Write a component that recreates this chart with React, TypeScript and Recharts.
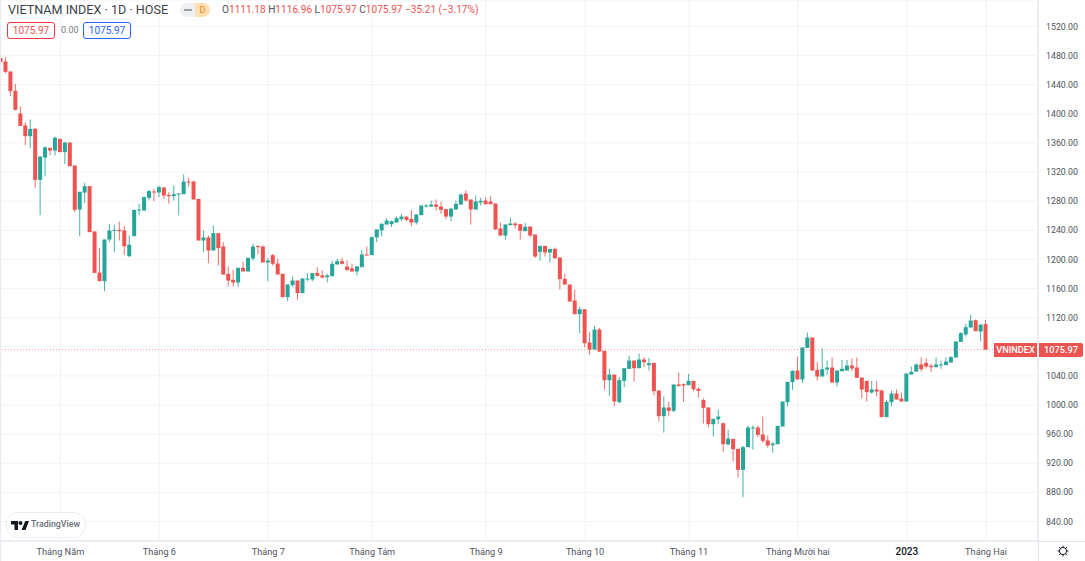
import { ComposedChart, Bar, XAxis, YAxis, CartesianGrid, ReferenceLine } from "recharts";

const opens = [
  1476.9,1471.9,1458.2,1431.6,1400.5,1384,1369.3,1379.4,1309.3,1340,
  1353.3,1349.6,1365.7,1347.4,1360.6,1329,1268.6,1291.9,1300.6,1238.4,
  1182,1170.1,1227.4,1239.8,1240.7,1239.8,1204.5,1232,1267.7,1267.2,
  1284.6,1293.3,1291.9,1298.8,1288.7,1286.9,1289.2,1289.7,1307,1307,
  1283.2,1226,1230.1,1212.3,1236.1,1217.8,1180.2,1172,1168.3,1188.5,
  1183.5,1201.3,1218.3,1217.8,1195.8,1205.9,1194.4,1180.3,1148.2,1164.7,
  1171.1,1153.7,1172.5,1172.5,1181.6,1178,1175.7,1177,1193.1,1197.6,
  1190.3,1187.6,1183.5,1189.4,1206.8,1205.9,1230.2,1239.8,1248,1248.4,
  1250.7,1255.3,1258.9,1255.7,1250.7,1260.8,1273.1,1272.7,1275.4,1272.7,
  1269,1258.9,1268.6,1275.4,1290.5,1282.3,1268.6,1278.2,1280.9,1279.6,
  1276.8,1242.5,1232.8,1247,1249.3,1248.4,1238.8,1245.2,1234.2,1210.4,
  1218.6,1209.5,1214.5,1202.6,1173.3,1165.5,1143.6,1124.8,1131.6,1085.9,
  1076.2,1103.7,1074.4,1034.1,1041.9,1003.9,1033.2,1049.7,1061.1,1050.6,
  1062.5,1054.7,1057.9,1019.9,984.7,996.6,992,1028.2,1028.6,1027.2,
  1033.2,1022.2,1007.1,996.6,973.7,980.5,975,945.7,953.5,939.8,
  910.9,942.1,968.2,969.1,959.5,951.3,944.8,946.2,970.5,1003.9,
  1031.4,1047.4,1035.1,1078.5,1092.7,1048.3,1039.2,1048.8,1051.5,1030.9,
  1046.5,1047.4,1054.3,1051.5,1037.8,1033.2,1017.2,1021.3,1019.9,983.3,
  1003.9,1015.8,1008.9,1004.8,1041.9,1046,1055.7,1057.9,1053.9,1052,
  1054.8,1054.8,1058.4,1065.3,1086.8,1096.9,1106.5,1116.6,1101,1111.18,
];

const highs = [
  1477.9,1477.9,1458.2,1441.2,1410.1,1388.6,1392.2,1380.8,1341.4,1355.6,
  1353.3,1368.9,1365.7,1361.6,1360.6,1329,1292.9,1305.2,1300.6,1238.4,
  1215.5,1227.4,1248.9,1248,1252.1,1245.7,1232.9,1268.1,1276.4,1286.4,
  1296,1297,1301.6,1299.3,1292.4,1301.6,1290.6,1316.7,1312.1,1308.4,
  1283.2,1239.8,1232.9,1246.6,1236.1,1223.7,1190.3,1185.7,1188.5,1197.2,
  1202.2,1221.5,1219.6,1219.2,1202.2,1207.7,1200.9,1180.3,1165.6,1176.6,
  1171.1,1173.8,1181.2,1181.6,1189.4,1184.8,1180.3,1198.6,1200.9,1202.2,
  1198.6,1194,1191.2,1213.2,1217.8,1231.5,1241.2,1249.8,1256.7,1253.4,
  1258.9,1262.6,1258.9,1268.1,1261.7,1274,1276.3,1280.9,1282.3,1279.6,
  1269.9,1269.9,1280.9,1290.1,1294.7,1282.3,1287.8,1284.6,1285.5,1286.9,
  1276.8,1250.7,1248,1257.6,1251.2,1248.4,1250.2,1245.2,1234.2,1218.6,
  1218.6,1214.5,1216.4,1202.6,1180.2,1165.5,1158.7,1134.9,1131.6,1100,
  1108.8,1106,1074.4,1050.1,1041.9,1038.7,1050.6,1068,1061.1,1070.7,
  1065.7,1064.8,1057.9,1019.9,1011.7,1004.4,1028.2,1044.6,1029.5,1042.8,
  1033.2,1024,1008.9,996.6,981,993.8,976,965.9,953.5,939.8,
  943.9,971.8,971.9,971.9,984.2,958.1,949,971.4,1004.8,1031.8,
  1047.4,1066.6,1079,1099.6,1092.7,1058.9,1077.6,1061.2,1065.3,1047.4,
  1062,1062,1063.9,1065.3,1037.8,1033.2,1033.2,1033.2,1021.3,1007.1,
  1019.9,1021.3,1017.2,1043.3,1052.9,1057,1065.3,1063.9,1056.6,1065.3,
  1061.2,1065.8,1067.1,1087.3,1100.1,1111.5,1123.9,1117.5,1110.6,1116.96,
];

const lows = [
  1470,1455.9,1424.3,1404.6,1383.5,1357,1352.8,1298.4,1260.8,1314.4,
  1342.8,1342.8,1347.4,1330.9,1328.1,1264.9,1232,1277.3,1237.5,1181.1,
  1170.1,1156.4,1223.7,1210.4,1226,1206.3,1203.1,1232,1260.8,1267.2,
  1281,1280,1285.5,1283.2,1276.4,1281,1260.3,1289.7,1300.2,1282.3,
  1226,1210,1194.9,1212.3,1191.7,1179.3,1162.8,1162.8,1161.9,1183.5,
  1183.5,1198.6,1206.8,1195.8,1170.2,1191.7,1179.3,1148.2,1142.7,1161.9,
  1144.5,1153.7,1170.2,1170.2,1176.6,1173.8,1168.3,1177,1193.1,1193.1,
  1183.9,1183.5,1178,1189.4,1205.4,1205.9,1223.8,1232,1248,1244.3,
  1250.7,1252.5,1252.5,1245.7,1248,1260.8,1271.3,1271.8,1267.2,1262.6,
  1255.3,1252.5,1268.6,1275.4,1279.6,1248,1268.6,1274,1275.4,1275.9,
  1241.1,1232.8,1227.4,1247,1242.5,1227.4,1238.8,1230.1,1202.2,1198.5,
  1204,1195.8,1200.8,1158.7,1165.5,1142.2,1124.8,1098.7,1079.4,1069.4,
  1076.2,1072.6,1021.3,1012.6,998.4,1002.5,1024.5,1049.7,1032.7,1050.6,
  1052,1047.4,1013.5,977.3,962.2,984.7,990.2,1025.9,1003.9,1027.2,
  1019,1010.3,974.6,969.1,956.7,974.1,935.2,945.7,922.4,900.4,
  873.4,942.1,938.9,955.8,948,941.6,934.3,946.2,970.5,997.9,
  1020.9,1035.1,1030,1078.5,1047.4,1033.7,1039.2,1041.5,1030.9,1025.4,
  1046.5,1047.4,1046.5,1037.3,1009,1004.8,1015.8,1011.7,983.3,983.3,
  997.9,1007.6,1004.8,1004.8,1041.9,1046,1046,1050.2,1045.2,1052,
  1049.7,1054.8,1058.4,1065.3,1086.8,1094.1,1106.5,1101.5,1087.7,1075.97,
];

const closes = [
  1471,1457.7,1431.2,1405.5,1383.5,1369.3,1379.4,1309.3,1341.4,1353.8,
  1349.6,1367,1347.4,1360.6,1328.1,1268.1,1292.9,1300.6,1237.5,1181.6,
  1170.1,1227.4,1239.8,1240.7,1238.8,1218.2,1220.1,1268.1,1268.6,1285.5,
  1293.8,1292.4,1299.3,1287.8,1286.9,1289.7,1290.6,1307,1306.1,1282.3,
  1226,1230.1,1212.3,1236.1,1215.5,1179.3,1171,1168.3,1188.5,1183.5,
  1202.2,1217.8,1217.3,1195.8,1198.6,1194,1179.3,1148.2,1165.6,1171.1,
  1153.7,1173.8,1173.8,1181.2,1177.5,1175.2,1178,1194,1197.6,1194,
  1185.7,1183.5,1190.3,1206.8,1205.4,1230.6,1241.2,1248.9,1253.5,1252.5,
  1256.7,1258.9,1254.4,1250.7,1261.7,1274,1274,1275.4,1272.2,1268.1,
  1258.9,1269.9,1276.3,1289.2,1280.9,1268.6,1279.6,1280.5,1275.9,1275.9,
  1241.1,1232.8,1248,1249.3,1247,1239.3,1244.8,1232.8,1204,1218.6,
  1209.5,1214.5,1201.7,1172.9,1165.5,1142.2,1124.8,1131.6,1084.9,1076.2,
  1103.7,1073.5,1034.1,1041.9,1004.8,1034.1,1050.6,1061.1,1050.6,1062.5,
  1058.8,1057.5,1019,984.7,996.6,992,1028.2,1025.9,1026.8,1033.2,
  1021.8,1019.5,996.1,973.7,981,984.2,946.2,954,939.3,910.9,
  942.1,969.1,969.1,959,950.8,944.4,947.1,971.4,1004.8,1031.8,
  1047,1035.1,1079,1092.7,1047.4,1039.2,1049.2,1051.5,1030.9,1047.4,
  1049.7,1054.3,1050.2,1037.3,1021.3,1017.7,1021.3,1018.6,983.3,1004.4,
  1015.8,1007.6,1004.8,1043.3,1045.6,1055.7,1049.2,1052.9,1052,1055.7,
  1055.7,1059.8,1065.8,1087.3,1098.7,1106.9,1116.1,1101.5,1110.6,1075.97,
];

const monthTicks = [12, 32, 54, 75, 98, 118, 139, 161, 183, 199];
const monthLabels = ["Tháng Năm", "Tháng 6", "Tháng 7", "Tháng Tám", "Tháng 9", "Tháng 10", "Tháng 11", "Tháng Mười hai", "2023", "Tháng Hai"];
const priceTicks = [840, 880, 920, 960, 1000, 1040, 1080, 1120, 1160, 1200, 1240, 1280, 1320, 1360, 1400, 1440, 1480, 1520];
const lastPrice = 1075.97;

const UP = "#26a69a";
const DOWN = "#ef5350";
const FONT = "Roboto, sans-serif";
const TEXT = "#50535e";

const candles = opens.map((open, idx) => ({
  idx,
  open,
  close: closes[idx],
  range: [lows[idx], highs[idx]],
}));

function Candle(props: any) {
  const { x, y, width, height, payload } = props;
  const { open, close, range } = payload;
  const perUnit = height / (range[1] - range[0]);
  const top = y + (range[1] - Math.max(open, close)) * perUnit;
  const bodyHeight = Math.max(Math.abs(open - close) * perUnit, 1);
  const mid = x + width / 2;
  const fill = close < open ? DOWN : UP;
  return (
    <g>
      <rect x={mid - 0.5} y={y} width={1} height={height} fill={fill} opacity={0.85} />
      <rect x={mid - 2} y={top} width={4} height={bodyHeight} fill={fill} />
    </g>
  );
}

function MonthTick({ x, y, payload }: any) {
  const label = monthLabels[monthTicks.indexOf(payload.value)];
  const isYear = label === "2023";
  return (
    <text x={x} y={y + 6} textAnchor="middle" fontFamily={FONT} fontSize={isYear ? 10 : 9.2} fontWeight={isYear ? 500 : 400} fill={isYear ? "#131722" : TEXT}>
      {label}
    </text>
  );
}

const tagStyle = {
  position: "absolute" as const,
  top: 343,
  height: 14,
  lineHeight: "14px",
  background: DOWN,
  color: "#fff",
  fontFamily: FONT,
  fontSize: 9.2,
  fontWeight: 500,
  textAlign: "center" as const,
};

const boxStyle = {
  position: "absolute" as const,
  top: 22,
  height: 15,
  width: 46,
  border: "1px solid",
  borderRadius: 3,
  textAlign: "center" as const,
  lineHeight: "15px",
  fontSize: 10,
};

function Header() {
  const value = { color: DOWN };
  return (
    <div style={{ position: "absolute", left: 0, top: 0, fontFamily: FONT, color: TEXT }}>
      <div style={{ position: "absolute", left: 8, top: 2, fontSize: 12.6, whiteSpace: "nowrap", color: "#3c3f48" }}>VIETNAM INDEX · 1D · HOSE</div>
      <div style={{ position: "absolute", left: 180, top: 3, width: 15, height: 14, background: "#eef0f4", borderRadius: "7px 0 0 7px" }}>
        <div style={{ position: "absolute", left: 4, top: 6, width: 8, height: 2, background: "#9a9da6" }} />
      </div>
      <div style={{ position: "absolute", left: 195, top: 3, width: 15, height: 14, background: "#ffe0b2", borderRadius: "0 7px 7px 0", color: "#f57f17", fontSize: 9, lineHeight: "14px", textAlign: "center" }}>D</div>
      <div style={{ position: "absolute", left: 222, top: 4, fontSize: 10.1, whiteSpace: "nowrap" }}>
        O<span style={value}>1111.18 </span>H<span style={value}>1116.96 </span>L<span style={value}>1075.97 </span>C<span style={value}>1075.97 </span>
        <span style={value}>−35.21 (−3.17%)</span>
      </div>
      <div style={{ ...boxStyle, left: 7, borderColor: "#f23645", color: DOWN }}>1075.97</div>
      <div style={{ position: "absolute", left: 61, top: 25, fontSize: 9, color: "#787b86" }}>0.00</div>
      <div style={{ ...boxStyle, left: 83, borderColor: "#2962ff", color: "#2962ff" }}>1075.97</div>
    </div>
  );
}

function Branding() {
  return (
    <div style={{ position: "absolute", left: 6, top: 512, width: 78, height: 24, border: "1px solid #eceef2", borderRadius: 12, background: "#fff", fontFamily: FONT }}>
      <svg width={18} height={11} viewBox="0 0 36 22" style={{ position: "absolute", left: 4, top: 7 }}>
        <path d="M14 20H7V9H0V2h14v18zM29 20h-8l7.5-18h7.5L29 20z" fill="#131722" />
        <circle cx="19" cy="6" r="4" fill="#131722" />
      </svg>
      <div style={{ position: "absolute", left: 24, top: 6, fontSize: 8.8, color: "#6a6d78", fontWeight: 500 }}>TradingView</div>
    </div>
  );
}

function Gear() {
  return (
    <svg width={12} height={12} viewBox="0 0 12 12" style={{ position: "absolute", left: 1057, top: 545 }}>
      <circle cx="6" cy="6" r="3.6" fill="none" stroke="#131722" strokeWidth={1} />
      <path d="M6 0.5v1.6M6 9.9v1.6M0.5 6h1.6M9.9 6h1.6M2.1 2.1l1.1 1.1M8.8 8.8l1.1 1.1M2.1 9.9l1.1-1.1M8.8 3.2l1.1-1.1" stroke="#131722" strokeWidth={0.9} />
    </svg>
  );
}

export default function App() {
  return (
    <div style={{ position: "absolute", left: 0, top: 0, width: 1085, height: 561, background: "#fff", overflow: "hidden" }}>
      <ComposedChart width={1085} height={561} data={candles} margin={{ top: 0, right: 0, left: 0, bottom: 0 }}>
        <CartesianGrid stroke="#f2f3f6" />
        <XAxis
          dataKey="idx"
          type="number"
          domain={[-0.2, 209.5]}
          allowDataOverflow
          ticks={monthTicks}
          interval={0}
          height={20}
          axisLine={{ stroke: "#e0e3eb" }}
          tickLine={false}
          tick={<MonthTick />}
        />
        <YAxis
          orientation="right"
          width={47}
          domain={[813.2, 1556.4]}
          allowDataOverflow
          ticks={priceTicks}
          interval={0}
          axisLine={{ stroke: "#e0e3eb" }}
          tickLine={false}
          tick={{ fill: TEXT, fontSize: 8.8, fontFamily: FONT }}
          tickFormatter={(v: number) => v.toFixed(2)}
        />
        <Bar dataKey="range" barSize={4} shape={<Candle />} isAnimationActive={false} />
        <ReferenceLine y={lastPrice} stroke={DOWN} strokeOpacity={0.6} strokeDasharray="1 2" />
      </ComposedChart>
      <div style={{ position: "absolute", left: 0, top: 0, width: 1, height: 561, background: "#e8eaf0" }} />
      <div style={{ position: "absolute", left: 1038, top: 541, width: 47, height: 1, background: "#e0e3eb" }} />
      <div style={{ position: "absolute", left: 1038, top: 541, width: 1, height: 20, background: "#e0e3eb" }} />
      <div style={{ ...tagStyle, left: 994, width: 43 }}>VNINDEX</div>
      <div style={{ ...tagStyle, left: 1039, width: 44, borderRadius: "0 2px 2px 0" }}>1075.97</div>
      <Header />
      <Branding />
      <Gear />
    </div>
  );
}
